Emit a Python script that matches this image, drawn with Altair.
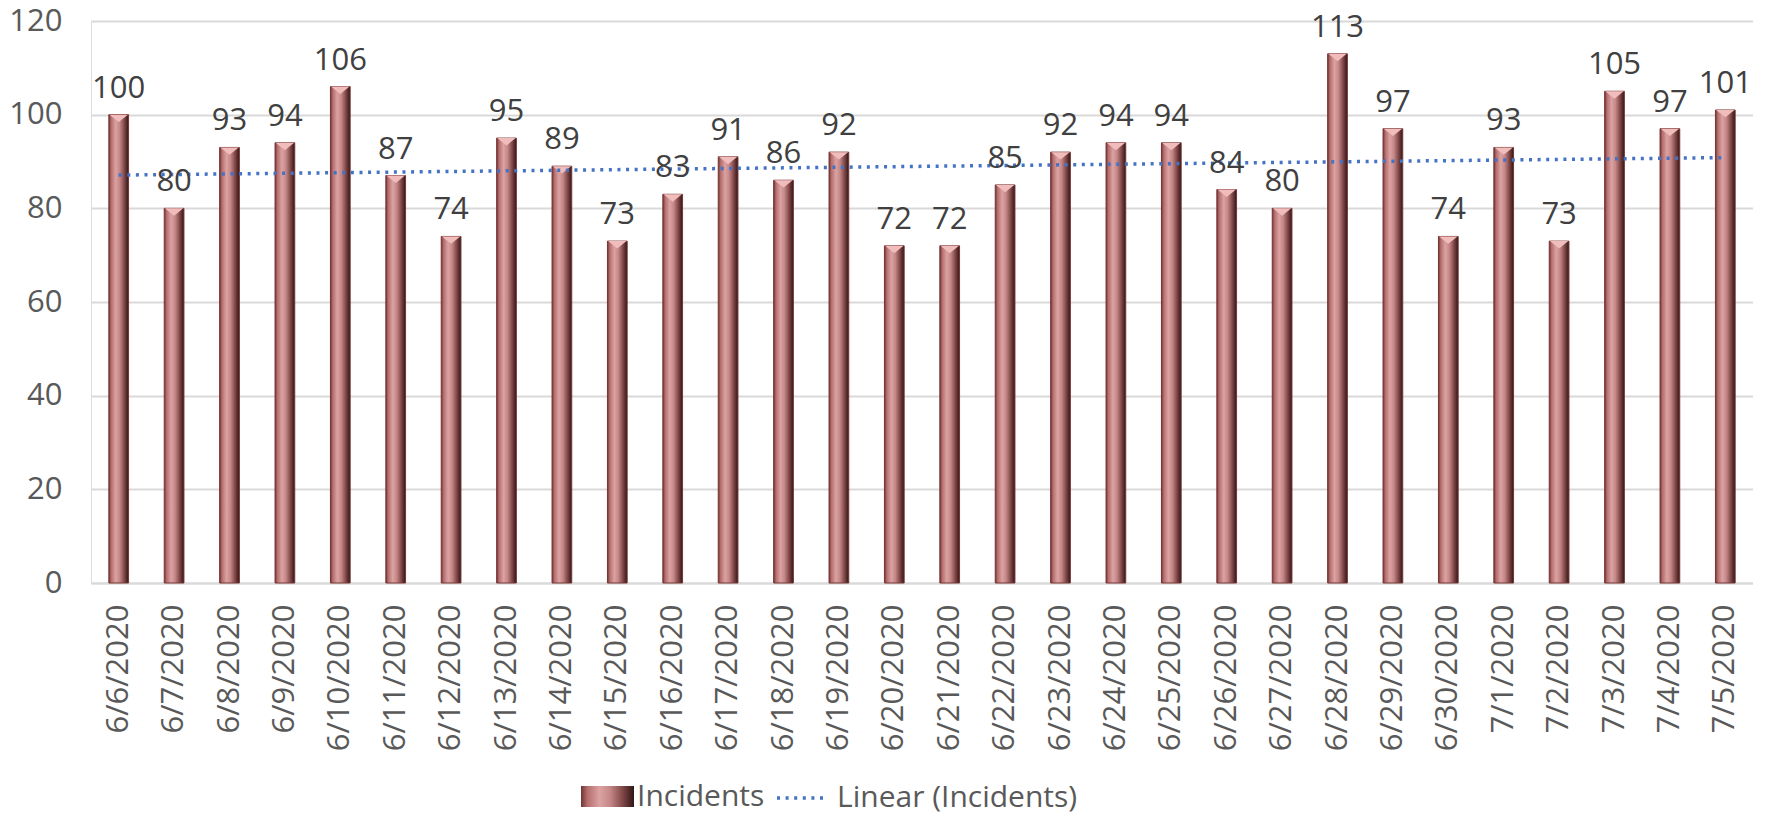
import altair as alt
import pandas as pd
import numpy as np

dates = ["6/6/2020", "6/7/2020", "6/8/2020", "6/9/2020", "6/10/2020", "6/11/2020",
         "6/12/2020", "6/13/2020", "6/14/2020", "6/15/2020", "6/16/2020", "6/17/2020",
         "6/18/2020", "6/19/2020", "6/20/2020", "6/21/2020", "6/22/2020", "6/23/2020",
         "6/24/2020", "6/25/2020", "6/26/2020", "6/27/2020", "6/28/2020", "6/29/2020",
         "6/30/2020", "7/1/2020", "7/2/2020", "7/3/2020", "7/4/2020", "7/5/2020"]
incidents = [100, 80, 93, 94, 106, 87, 74, 95, 89, 73, 83, 91, 86, 92, 72,
             72, 85, 92, 94, 94, 84, 80, 113, 97, 74, 93, 73, 105, 97, 101]
y_ticks = [0, 20, 40, 60, 80, 100, 120]

# Excel-style linear trendline (least squares fit of the series)
idx = np.arange(len(incidents))
slope, intercept = np.polyfit(idx, incidents, 1)
trend = intercept + slope * idx

df = pd.DataFrame({
    "date": dates,
    "incidents": incidents,
    "trend": trend,
    "series": "Incidents",
    "tseries": "Linear (Incidents)",
})

FONT = "Open Sans"
W, H = 1662, 562

x_enc = alt.X(
    "date:N", sort=dates, title=None,
    scale=alt.Scale(paddingInner=0.644, paddingOuter=0.322),
    axis=alt.Axis(labelAngle=-90, labelAlign="right", labelBaseline="middle",
                  labelFontSize=31, labelFont=FONT, labelColor="#595959",
                  ticks=False, tickSize=0, labelPadding=21,
                  domain=True, domainColor="#d9d9d9", domainWidth=2,
                  grid=False, labelOverlap=False),
)
y_scale = alt.Scale(domain=[0, 120], nice=False)

bar_grad = alt.Gradient(
    gradient="linear", x1=0, x2=1, y1=0, y2=0,
    stops=[
        alt.GradientStop(offset=0.0, color="#6e3434"),
        alt.GradientStop(offset=0.12, color="#b56e6e"),
        alt.GradientStop(offset=0.35, color="#dca2a2"),
        alt.GradientStop(offset=0.55, color="#c58787"),
        alt.GradientStop(offset=0.8, color="#7c4343"),
        alt.GradientStop(offset=1.0, color="#2e1616"),
    ],
)

LEG_Y = 748

bars = alt.Chart(df).mark_bar(
    fill=bar_grad, stroke="#7a3434", strokeWidth=1
).encode(
    x=x_enc,
    y=alt.Y("incidents:Q", scale=y_scale, title=None,
            axis=alt.Axis(values=y_ticks, labelFontSize=31, labelFont=FONT,
                          labelColor="#595959", ticks=False, tickSize=0,
                          domain=False, labelPadding=29,
                          grid=True, gridColor="#d9d9d9", gridWidth=2)),
    opacity=alt.Opacity(
        "series:N", scale=alt.Scale(range=[1]),
        legend=alt.Legend(
            title=None, orient="none", legendX=489, legendY=LEG_Y, padding=0,
            symbolType="M-1,-0.4H1V0.4H-1Z", symbolSize=2809,
            symbolFillColor="#c98888", symbolStrokeColor="#6b3030",
            symbolStrokeWidth=1.5, symbolOpacity=1,
            labelFontSize=30, labelFont=FONT, labelColor="#595959",
            labelOffset=2, labelLimit=400,
        ),
    ),
)

caps = alt.Chart(df).mark_point(
    shape="M-1,0L1,0L0,0.8Z", size=340, filled=True, fill="#f1bcbc",
    opacity=1, strokeWidth=0,
).encode(
    x=alt.X("date:N", sort=dates),
    y=alt.Y("incidents:Q", scale=y_scale),
)

labels = alt.Chart(df).mark_text(
    baseline="alphabetic", align="center", dy=-17,
    fontSize=31, font=FONT, color="#404040",
).encode(
    x=alt.X("date:N", sort=dates),
    y=alt.Y("incidents:Q", scale=y_scale),
    text=alt.Text("incidents:Q"),
)

trend_line = alt.Chart(df).mark_line(
    color="#4472C4", strokeWidth=3.5,
).encode(
    x=alt.X("date:N", sort=dates),
    y=alt.Y("trend:Q", scale=y_scale),
    strokeDash=alt.StrokeDash(
        "tseries:N", scale=alt.Scale(range=[[3, 5.6]]),
        legend=alt.Legend(
            title=None, orient="none", legendX=684, legendY=LEG_Y + 3, padding=0,
            symbolType="stroke", symbolSize=2304,
            symbolStrokeColor="#4472C4", symbolStrokeWidth=3.5,
            labelFontSize=30, labelFont=FONT, labelColor="#595959",
            labelOffset=10, labelLimit=500,
        ),
    ),
)

chart = alt.layer(bars, caps, trend_line, labels).properties(
    width=W, height=H,
    autosize=alt.AutoSizeParams(type="none"),
    padding={"left": 83, "top": 13, "right": 0, "bottom": 234},
).configure_view(stroke=None).configure(background="white")

chart.save("out.html", embed_options={"renderer": "svg", "actions": False})
